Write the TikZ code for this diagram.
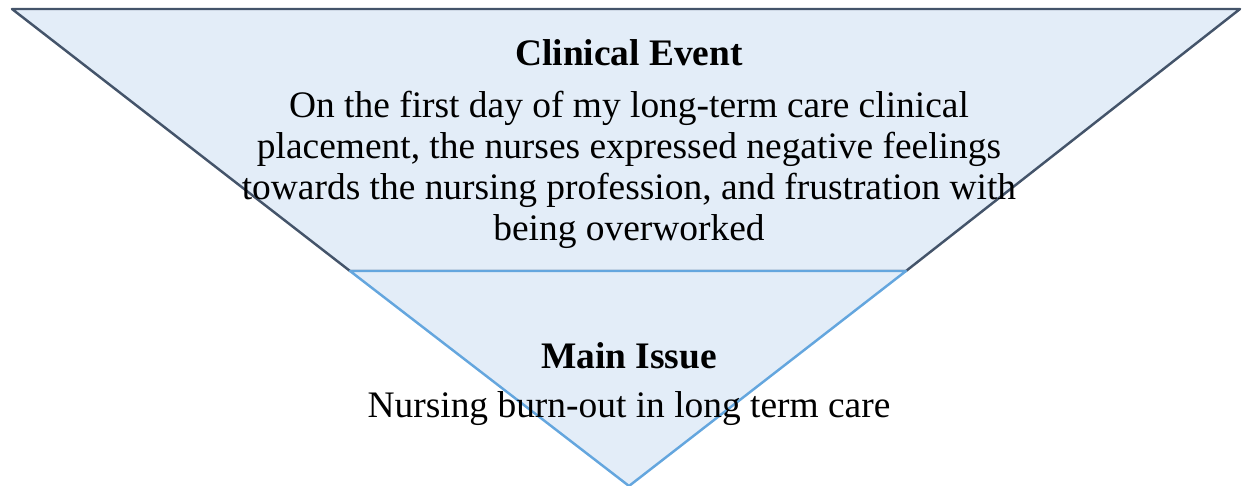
\documentclass[tikz,border=0pt]{standalone}
\usepackage{fontspec}
\setmainfont{Liberation Serif}
\usetikzlibrary{positioning}
\definecolor{funnelfill}{HTML}{E3EDF8}
\definecolor{eventline}{HTML}{44546A}
\definecolor{issueline}{HTML}{64A6DE}

\begin{document}
\begin{tikzpicture}[x=0.02cm,y=-0.02cm,
    label/.style={font=\fontsize{21.3}{23.2}\selectfont, align=center, inner sep=0pt},
    heading/.style={label, font=\fontsize{21.3}{23.2}\selectfont\bfseries}]
            \useasboundingbox (0,0) rectangle (1243,486);
            % Clinical event
            \filldraw[fill=funnelfill, draw=eventline, line width=1.4pt, line join=round] (12,9) -- (1240,9) -- (906,271) -- (350,271) -- cycle;
            % Main issue
            \filldraw[fill=funnelfill, draw=issueline, line width=1.4pt, line join=round] (350,271) -- (906,271) -- (629,486) -- cycle;

            \node[heading] (eventtitle) at (629,53) {Clinical Event};
            \node[label] (eventtext) at (629,170) {On the first day of my long-term care clinical\\placement, the nurses expressed negative feelings\\towards the nursing profession, and frustration with\\being overworked};

            \node[heading] (issuetitle) at (629,356) {Main Issue};
            \node[label] (issuetext) at (629,409) {Nursing burn-out in long term care};
\end{tikzpicture}
\end{document}
